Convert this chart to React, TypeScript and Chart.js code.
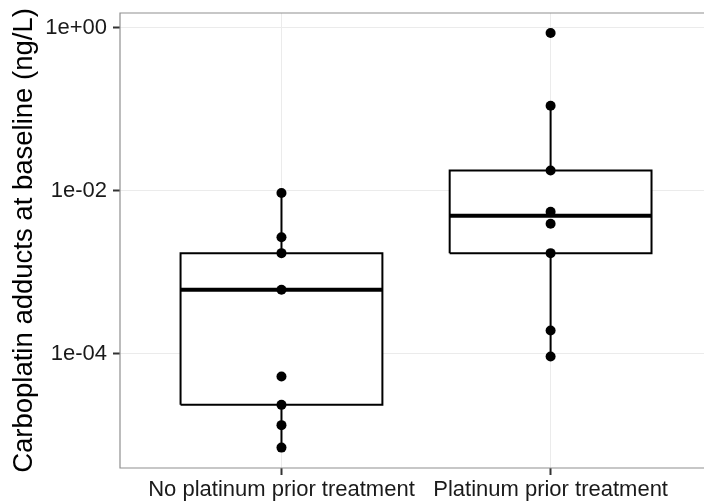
import React, { useEffect, useRef } from "react";
import { Chart, registerables } from "chart.js";

Chart.register(...registerables);

// Treatment groups along the x axis
const categories = ["No platinum prior treatment", "Platinum prior treatment"];

// Individual patient measurements (ng/L)
const noPlatinumValues = [0.0094, 0.0027, 0.00172, 0.00061, 5.25e-5, 2.36e-5, 1.33e-5, 7.05e-6];
const platinumValues = [0.869, 0.111, 0.0178, 0.00554, 0.00394, 0.00172, 1.93e-4, 9.24e-5];

// Box-plot summaries per group (same order as categories)
const whiskerLow = [7.05e-6, 9.24e-5];
const quartile1 = [2.36e-5, 0.00172];
const medians = [6.1e-4, 0.00494];
const quartile3 = [0.00172, 0.0178];
const whiskerHigh = [0.0094, 0.111];

// Log-axis ticks
const yTickValues = [1, 0.01, 0.0001];
const yTickLabels = ["1e+00", "1e-02", "1e-04"];

const FONT = "'Liberation Sans', Arial, Helvetica, sans-serif";
const BOX_HALF = 0.375;

const panelBorder = {
  id: "panelBorder",
  afterDraw(chart: any) {
    const { ctx, chartArea } = chart;
    const { left, top, right, bottom } = chartArea;
    ctx.save();
    ctx.strokeStyle = "#8f8f8f";
    ctx.lineWidth = 1.2;
    ctx.beginPath();
    ctx.moveTo(right, top);
    ctx.lineTo(left, top);
    ctx.lineTo(left, bottom);
    ctx.lineTo(right, bottom);
    ctx.stroke();
    ctx.restore();
  },
};

// Fixed axis sizes, with no extra room reserved for overhanging labels
const fixAxis = (size: number) => (s: any) => {
  if (s.isHorizontal()) s.height = size;
  else s.width = size;
  s.paddingTop = 0;
  s.paddingBottom = 0;
  s.paddingLeft = 0;
  s.paddingRight = 0;
};

export default function App() {
  const canvasRef = useRef<HTMLCanvasElement | null>(null);

  useEffect(() => {
    const canvas = canvasRef.current;
    if (!canvas) return;

    const groups = [noPlatinumValues, platinumValues];
    const pointData = groups.flatMap((vals, i) => vals.map((v) => ({ x: i + 1, y: v })));

    const datasets: any[] = [
      {
        type: "scatter",
        label: "points",
        data: pointData,
        pointRadius: 5,
        pointHoverRadius: 5,
        backgroundColor: "#000",
        borderWidth: 0,
        order: 0,
      },
    ];

    categories.forEach((_, i) => {
      const c = i + 1;
      datasets.push({
        type: "line",
        label: "median",
        data: [
          { x: c - BOX_HALF, y: medians[i] },
          { x: c + BOX_HALF, y: medians[i] },
        ],
        borderColor: "#000",
        borderWidth: 4,
        pointRadius: 0,
        fill: false,
        order: 1,
      });
      datasets.push({
        type: "line",
        label: "box",
        data: [
          { x: c - BOX_HALF, y: quartile1[i] },
          { x: c + BOX_HALF, y: quartile1[i] },
          { x: c + BOX_HALF, y: quartile3[i] },
          { x: c - BOX_HALF, y: quartile3[i] },
          { x: c - BOX_HALF, y: quartile1[i] },
        ],
        borderColor: "#000",
        borderWidth: 2,
        backgroundColor: "#ffffff",
        borderJoinStyle: "miter",
        pointRadius: 0,
        fill: "shape",
        order: 2,
      });
      datasets.push({
        type: "line",
        label: "whisker-high",
        data: [
          { x: c, y: quartile3[i] },
          { x: c, y: whiskerHigh[i] },
        ],
        borderColor: "#000",
        borderWidth: 2,
        pointRadius: 0,
        fill: false,
        order: 3,
      });
      datasets.push({
        type: "line",
        label: "whisker-low",
        data: [
          { x: c, y: quartile1[i] },
          { x: c, y: whiskerLow[i] },
        ],
        borderColor: "#000",
        borderWidth: 2,
        pointRadius: 0,
        fill: false,
        order: 3,
      });
    });

    const gridOpts = {
      color: "#ebebeb",
      lineWidth: 1,
      tickColor: "#333333",
      tickLength: 7,
      tickWidth: 2,
    };

    const chart = new Chart(canvas, {
      type: "scatter",
      data: { datasets },
      plugins: [panelBorder],
      options: {
        responsive: false,
        animation: false,
        devicePixelRatio: 1,
        layout: { autoPadding: false, padding: { top: 13, right: 0, bottom: 0, left: 0 } },
        plugins: {
          legend: { display: false },
          title: { display: false },
          tooltip: { enabled: false },
        },
        scales: {
          x: {
            type: "linear",
            min: 0.4,
            max: 2.57,
            afterBuildTicks: (s: any) => {
              s.ticks = categories.map((_, i) => ({ value: i + 1 }));
            },
            afterFit: fixAxis(36),
            ticks: {
              callback: (v: any) => categories[Math.round(Number(v)) - 1] ?? "",
              font: { size: 22, family: FONT },
              color: "#1a1a1a",
              padding: 2,
              maxRotation: 0,
              autoSkip: false,
            },
            grid: gridOpts,
            border: { display: false },
          },
          y: {
            type: "logarithmic",
            min: 3.96e-6,
            max: 1.528,
            afterBuildTicks: (s: any) => {
              s.ticks = yTickValues.map((v) => ({ value: v }));
            },
            afterFit: fixAxis(120),
            ticks: {
              callback: (v: any) => {
                const idx = yTickValues.indexOf(Number(v));
                return idx >= 0 ? yTickLabels[idx] : "";
              },
              font: { size: 22, family: FONT },
              color: "#1a1a1a",
              padding: 6,
              autoSkip: false,
            },
            grid: gridOpts,
            border: { display: false },
            title: {
              display: true,
              text: "Carboplatin adducts at baseline (ng/L)",
              font: { size: 27.5, family: FONT },
              color: "#000",
              padding: { top: 8, bottom: 0 },
            },
          },
        },
      } as any,
    });

    return () => chart.destroy();
  }, []);

  return (
    <div style={{ position: "absolute", left: 0, top: 0, width: 704, height: 504, background: "#fff" }}>
      <canvas ref={canvasRef} width={704} height={504} style={{ width: 704, height: 504, display: "block" }} />
    </div>
  );
}
